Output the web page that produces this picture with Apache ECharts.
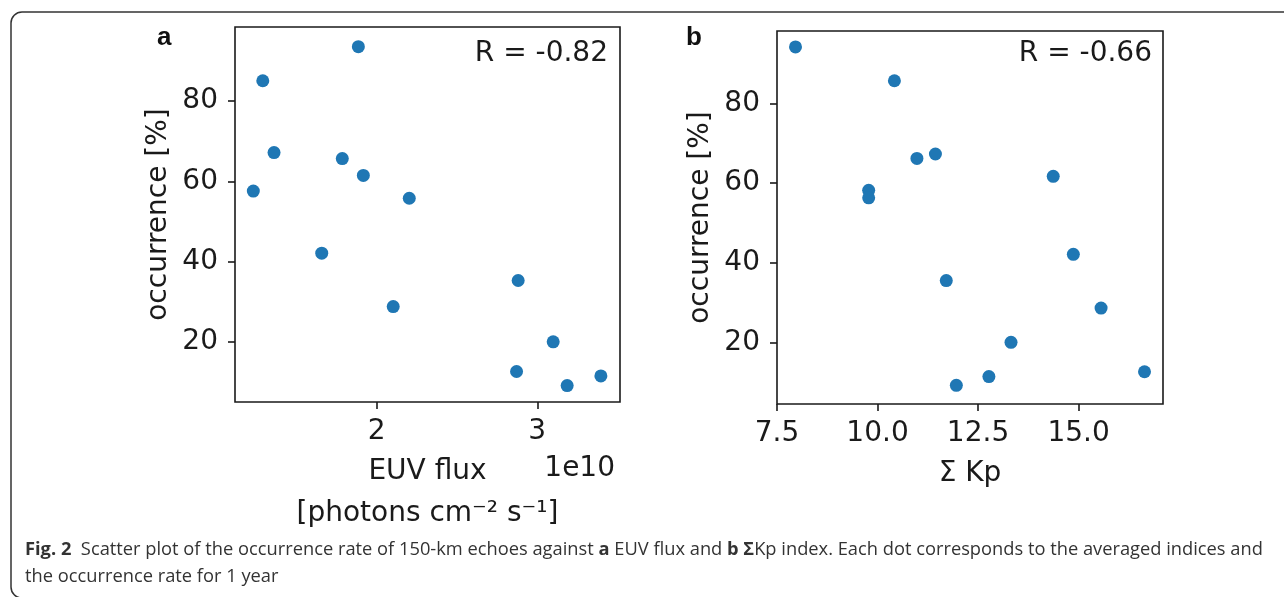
<!DOCTYPE html>
<html>
<head>
<meta charset="utf-8">
<script src="https://cdn.jsdelivr.net/npm/echarts@6/dist/echarts.min.js"></script>
<style>
html,body{margin:0;padding:0;background:#fff;}
#chart{width:1284px;height:597px;}
</style>
</head>
<body>
<div id="chart"></div>
<script>
// Panel a: EUV flux (units of 1e10 photons cm^-2 s^-1) vs occurrence [%]
const euvFlux = [1.886, 1.291, 1.361, 1.232, 1.786, 1.917, 2.203, 1.658, 2.881, 2.103, 3.099, 2.871, 3.186, 3.396];
const occurrenceA = [93.6, 85.1, 67.2, 57.6, 65.7, 61.5, 55.8, 42.1, 35.3, 28.8, 20.0, 12.6, 9.1, 11.5];
// Panel b: sum Kp vs occurrence [%]
const sumKp = [7.96, 10.42, 10.98, 11.44, 9.78, 9.78, 14.37, 14.87, 11.71, 15.56, 13.32, 12.77, 11.96, 16.64];
const occurrenceB = [94.2, 85.7, 66.2, 67.3, 58.2, 56.3, 61.7, 42.1, 35.5, 28.6, 20.0, 11.4, 9.2, 12.6];
// Tick labels
const xTicksA = [2, 3];
const xTicksB = [7.5, 10.0, 12.5, 15.0];
const yTicks = [20, 40, 60, 80];
const correlationA = 'R = -0.82';
const correlationB = 'R = -0.66';

const TXT = '#1a1a1a';
const FONT = 'DejaVu Sans';
const DOT = '#1f77b4';
const CAP_FONT = 'Open Sans';
const CAP_SIZE = 18.3;

function xAxisCfg(grid, min, max, ticks, name, fmt) {
  return {
    gridIndex: grid, type: 'value', min: min, max: max,
    axisLine: {show: false, onZero: false},
    axisTick: {show: true, customValues: ticks, length: 7, lineStyle: {color: TXT, width: 1.6}},
    axisLabel: {customValues: ticks, fontFamily: FONT, fontSize: 28, color: TXT, margin: 16, formatter: fmt},
    splitLine: {show: false},
    name: name, nameLocation: 'middle', nameGap: 46,
    nameTextStyle: {fontFamily: FONT, fontSize: 28, lineHeight: 42, color: TXT}
  };
}
function yAxisCfg(grid, min, max) {
  return {
    gridIndex: grid, type: 'value', min: min, max: max,
    axisLine: {show: false, onZero: false},
    axisTick: {show: true, customValues: yTicks, length: 7, lineStyle: {color: TXT, width: 1.6}},
    axisLabel: {customValues: yTicks, fontFamily: FONT, fontSize: 28, color: TXT, margin: 17},
    splitLine: {show: false},
    name: 'occurrence [%]', nameLocation: 'middle', nameGap: 62,
    nameTextStyle: {fontFamily: FONT, fontSize: 28, color: TXT}
  };
}

const chart = echarts.init(document.getElementById('chart'), null, {renderer: 'canvas'});
const option = {
  animation: false,
  backgroundColor: '#ffffff',
  grid: [
    {left: 235, top: 27, width: 385, height: 375, show: true, borderColor: TXT, borderWidth: 1.6, backgroundColor: 'transparent'},
    {left: 777, top: 31, width: 386, height: 373, show: true, borderColor: TXT, borderWidth: 1.6, backgroundColor: 'transparent'}
  ],
  xAxis: [
    xAxisCfg(0, 1.118, 3.515, xTicksA, 'EUV flux\n[photons cm⁻² s⁻¹]', v => String(v)),
    xAxisCfg(1, 7.5, 17.1, xTicksB, 'Σ Kp', v => v.toFixed(1))
  ],
  yAxis: [
    yAxisCfg(0, 5, 98.5),
    yAxisCfg(1, 4.5, 98.2)
  ],
  series: [
    {type: 'scatter', xAxisIndex: 0, yAxisIndex: 0, symbolSize: 13,
     itemStyle: {color: DOT, opacity: 1},
     data: euvFlux.map((x, i) => [x, occurrenceA[i]])},
    {type: 'scatter', xAxisIndex: 1, yAxisIndex: 1, symbolSize: 13,
     itemStyle: {color: DOT, opacity: 1},
     data: sumKp.map((x, i) => [x, occurrenceB[i]])}
  ],
  graphic: [
    {type: 'rect', silent: true, shape: {x: 11, y: 12, width: 1320, height: 586, r: 11},
     style: {fill: 'none', stroke: '#333', lineWidth: 1.5}},
    {type: 'text', style: {text: 'a', x: 157, y: 51, fontFamily: 'Liberation Sans, Arial, sans-serif', fontWeight: 'bold', fontSize: 26, fill: '#111', verticalAlign: 'bottom'}},
    {type: 'text', style: {text: 'b', x: 686, y: 51, fontFamily: 'Liberation Sans, Arial, sans-serif', fontWeight: 'bold', fontSize: 26, fill: '#111', verticalAlign: 'bottom'}},
    {type: 'text', style: {text: correlationA, x: 608, y: 40, align: 'right', verticalAlign: 'top', fontFamily: FONT, fontSize: 28, fill: TXT}},
    {type: 'text', style: {text: correlationB, x: 1152, y: 40, align: 'right', verticalAlign: 'top', fontFamily: FONT, fontSize: 28, fill: TXT}},
    {type: 'text', style: {text: '1e10', x: 615, y: 455, align: 'right', verticalAlign: 'top', fontFamily: FONT, fontSize: 28, fill: TXT}},
    {type: 'text', style: {
      text: '{b|Fig. 2}  Scatter plot of the occurrence rate of 150-km echoes against {b|a} EUV flux and {b|b Σ}Kp index. Each dot corresponds to the averaged indices and',
      x: 25, y: 541, verticalAlign: 'top', fontFamily: CAP_FONT, fontSize: CAP_SIZE, fill: '#333',
      rich: {b: {fontFamily: CAP_FONT, fontWeight: 'bold', fontSize: CAP_SIZE, fill: '#333'}}
    }},
    {type: 'text', style: {
      text: 'the occurrence rate for 1 year',
      x: 25, y: 568, verticalAlign: 'top', fontFamily: CAP_FONT, fontSize: CAP_SIZE, fill: '#333'
    }}
  ]
};
chart.setOption(option);
</script>
</body>
</html>
